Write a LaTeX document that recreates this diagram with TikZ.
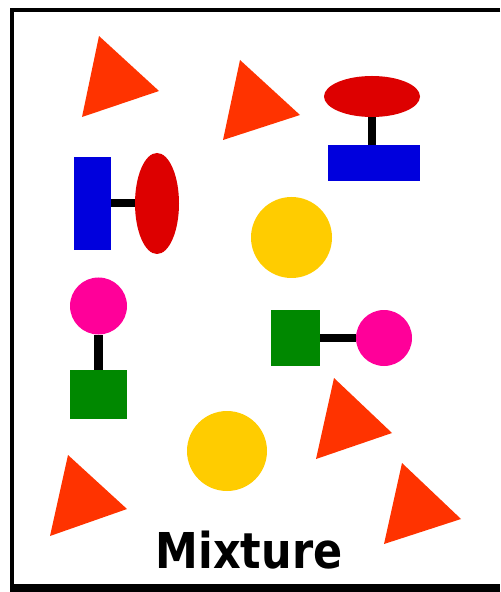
\documentclass[tikz,border=0pt]{standalone}
\usepackage{fontspec}
\setmainfont{DejaVu Sans}
\newfontfamily\captionfont[FakeStretch=0.87]{DejaVu Sans Bold}
\usepackage{tikz}
\usetikzlibrary{shapes.geometric}

\definecolor{tricol}{HTML}{FF3300}
\definecolor{redcol}{HTML}{DD0000}
\definecolor{bluecol}{HTML}{0000DD}
\definecolor{suncol}{HTML}{FFCC00}
\definecolor{pinkcol}{HTML}{FF0099}
\definecolor{greencol}{HTML}{008800}

\begin{document}
\begin{tikzpicture}[
  x=0.5pt, y=-0.5pt,
  part/.style={inner sep=0pt, outer sep=0pt},
  redell/.style={part, ellipse, fill=redcol},
  bluebox/.style={part, rectangle, fill=bluecol},
  greenbox/.style={part, rectangle, fill=greencol},
  pinkball/.style={part, circle, fill=pinkcol},
  sunball/.style={part, circle, fill=suncol},
  bond/.style={line width=4pt, black},
  tri/.style={fill=tricol}
]
  \useasboundingbox (0,0) rectangle (500,592);

  % Frame
  \draw[line width=2pt] (500,10) -- (12,10) -- (12,584);
  \draw[line width=4pt] (10,588) -- (500,588);

  % Loose triangles
  \fill[tri] (99,36) -- (159,91) -- (82,117) -- cycle;
  \fill[tri] (240,60) -- (300,115) -- (223,140) -- cycle;
  \fill[tri] (334,378) -- (392,433) -- (316,459) -- cycle;
  \fill[tri] (68,455) -- (127,509) -- (50,536) -- cycle;
  \fill[tri] (402,463) -- (461,519) -- (384,544) -- cycle;

  % Top right pair
  \node[redell, minimum width=48pt, minimum height=20.5pt] (ellTop) at (372,96.5) {};
  \node[bluebox, minimum width=46pt, minimum height=18pt] (boxTop) at (374,163) {};
  \draw[bond] (ellTop.south) -- (ellTop.south |- boxTop.north);

  % Left pair
  \node[bluebox, minimum width=18.5pt, minimum height=46.5pt] (boxLeft) at (92.5,203.5) {};
  \node[redell, minimum width=22pt, minimum height=50.5pt] (ellLeft) at (157,203.5) {};
  \draw[bond] (boxLeft.east) -- (ellLeft.west);

  % Yellow balls
  \node[sunball, minimum size=40.5pt] (sunTop) at (291.5,237.5) {};
  \node[sunball, minimum size=40pt] (sunLow) at (227,451) {};

  % Pink and green, vertical
  \node[pinkball, minimum size=28.5pt] (pinkLeft) at (98.5,306) {};
  \node[greenbox, minimum width=28.5pt, minimum height=24.5pt] (greenLeft) at (98.5,394.5) {};
  \draw[bond, line width=4.5pt] (pinkLeft.south) -- (greenLeft.north);

  % Pink and green, horizontal
  \node[greenbox, minimum width=24.5pt, minimum height=28pt] (greenRight) at (295.5,338) {};
  \node[pinkball, minimum size=28pt] (pinkRight) at (384,338) {};
  \draw[bond] (greenRight.east) -- (pinkRight.west);

  % Caption
  \node[anchor=base, inner sep=0pt, font=\captionfont\fontsize{24.7}{30}\selectfont] (caption) at (249,568) {Mixture};
\end{tikzpicture}
\end{document}
